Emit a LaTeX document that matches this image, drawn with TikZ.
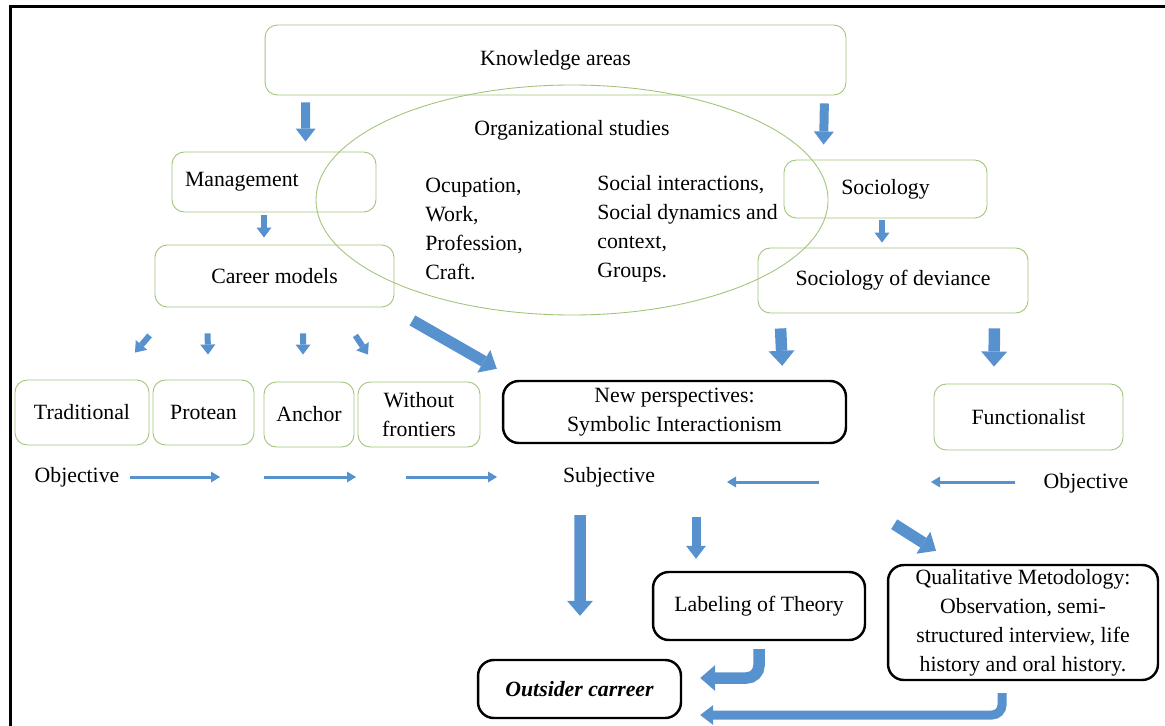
\documentclass[tikz,border=0pt]{standalone}
\usepackage{fontspec}
\setmainfont{Liberation Serif}
\usetikzlibrary{arrows.meta,calc}
\definecolor{arrowblue}{RGB}{87,146,206}
\definecolor{boxgreen}{RGB}{160,196,122}
\tikzset{
	greenbox/.style={draw=boxgreen, line width=0.5pt, rounded corners=7pt, align=center, inner sep=2pt},
	blackbox/.style={draw=black, line width=1.4pt, rounded corners=9pt, align=center, inner sep=2pt},
	bigarrow/.style={draw=arrowblue, line width=0.23cm, -{Triangle[length=0.3cm, width=0.52cm, line width=0pt]}},
	midarrow/.style={draw=arrowblue, line width=0.18cm, -{Triangle[length=0.26cm, width=0.4cm, line width=0pt]}},
	smallarrow/.style={draw=arrowblue, line width=0.12cm, -{Triangle[length=0.2cm, width=0.3cm, line width=0pt]}},
	thinarrow/.style={draw=arrowblue, line width=0.06cm, -{Triangle[length=0.18cm, width=0.22cm, line width=0pt]}},
}

\begin{document}
\begin{tikzpicture}[x=0.02cm, y=-0.02cm, font=\fontsize{12.4}{16.5}\selectfont]
		%%%%% START %%%%%
		\useasboundingbox (0, 0) rectangle (1165, 726);
		\draw[line width=0.065cm] (10.5, 726) -- (10.5, 6.5) -- (1165, 6.5);
		
		\node[greenbox, minimum width=11.62cm, minimum height=1.4cm] (know) at (555.5, 60) {Knowledge areas};
		\draw[boxgreen, line width=0.5pt] (572, 200) ellipse (256 and 115);
		\node (orgstud) at (572, 130) {Organizational studies};
		\node[align=left, anchor=west, inner sep=0pt] (ocup) at (425, 229) {Ocupation,\\Work,\\Profession,\\Craft.};
		\node[align=left, anchor=west, inner sep=0pt] (socint) at (597, 229) {Social interactions,\\Social dynamics and\\context,\\Groups.};
		
		\node[greenbox, text width=3.56cm, align=left, inner xsep=0.26cm, minimum height=1.2cm] (mgmt) at (274, 182) {Management};
		\node[greenbox, minimum width=4.78cm, minimum height=1.24cm] (career) at (274.5, 276) {Career models};
		\node[greenbox, minimum width=4.06cm, minimum height=1.16cm] (socio) at (885.5, 189) {Sociology};
		\node[greenbox, minimum width=5.4cm, minimum height=1.3cm] (deviance) at (893, 280.5) {Sociology of deviance};
		
		\draw[midarrow] ($(know.south west)+(41, 7)$) -- ($(mgmt.north west)+(134, -10)$);
		\draw[midarrow] ($(know.south east)+(-22, 8)$) -- ($(socio.north west)+(40, -15)$);
		\draw[smallarrow] ($(mgmt.south)+(-10, 3)$) -- ($(career.north)+(-10.5, -7)$);
		\draw[smallarrow] ($(socio.south)+(-3.5, 2)$) -- ($(deviance.north)+(-11, -5)$);
		
		% career models
		\node[greenbox, minimum width=2.68cm, minimum height=1.3cm] (trad) at (82, 412.5) {Traditional};
		\node[greenbox, minimum width=2.02cm, minimum height=1.3cm] (protean) at (203.5, 412.5) {Protean};
		\node[greenbox, minimum width=1.8cm, minimum height=1.3cm] (anchorbox) at (309, 414.5) {Anchor};
		\node[greenbox, minimum width=2.44cm, minimum height=1.3cm] (nofront) at (419, 414.5) {Without\\frontiers};
		\draw[smallarrow] ($(career.south west)+(-5, 28)$) -- ($(trad.north)+(53, -27)$);
		\draw[smallarrow] ($(career.south west)+(53, 26)$) -- ($(protean.north)+(4.5, -25)$);
		\draw[smallarrow] ($(career.south)+(28.5, 26)$) -- ($(anchorbox.north)+(-6, -27)$);
		\draw[smallarrow] ($(career.south east)+(-39, 28)$) -- ($(nofront.north)+(-51, -27)$);
		
		\node[blackbox, minimum width=6.86cm, minimum height=1.24cm] (newpersp) at (674.5, 412) {New perspectives:\\Symbolic Interactionism};
		\node[greenbox, minimum width=3.78cm, minimum height=1.32cm] (func) at (1028.5, 417) {Functionalist};
		\draw[bigarrow] ($(career.south east)+(18, 13)$) -- ($(newpersp.north west)+(-5, -11)$);
		\draw[bigarrow] ($(deviance.south west)+(23, 15)$) -- ($(newpersp.north east)+(-65, -14)$);
		\draw[bigarrow] ($(deviance.south east)+(-34, 15)$) -- ($(func.north)+(-34.5, -17)$);
		
		% objective / subjective
		\node (objleft) at (77, 477) {Objective};
		\node (subj) at (609, 477) {Subjective};
		\node (objright) at (1086, 483) {Objective};
		\draw[thinarrow] ($(objleft.center)+(53, 0)$) -- ($(objleft.center)+(143, 0)$);
		\draw[thinarrow] ($(objleft.center)+(187, 0)$) -- ($(objleft.center)+(279, 0)$);
		\draw[thinarrow] ($(objleft.center)+(329, 0)$) -- ($(objleft.center)+(420, 0)$);
		\draw[thinarrow] ($(objright.center)+(-267, -1)$) -- ($(objright.center)+(-359, -1)$);
		\draw[thinarrow] ($(objright.center)+(-71, -1)$) -- ($(objright.center)+(-155, -1)$);
		
		\node[blackbox, minimum width=4.24cm, minimum height=1.36cm] (labeling) at (759, 606) {Labeling of Theory};
		\node[blackbox, minimum width=5.4cm, minimum height=2.3cm] (qual) at (1023, 622.5) {Qualitative Metodology:\\Observation, semi-\\structured interview, life\\history and oral history.};
		\node[blackbox, minimum width=4.06cm, minimum height=1.16cm, font=\fontsize{12.4}{16.5}\selectfont\bfseries\itshape] (outsider) at (579.5, 689) {Outsider carreer};
		
		\draw[bigarrow] ($(subj.center)+(-29, 38)$) -- ($(outsider.north)+(0.5, -43)$);
		\draw[midarrow] ($(subj.center)+(87, 40)$) -- ($(labeling.north)+(-63, -12)$);
		\draw[bigarrow] ($(newpersp.south east)+(47, 80)$) -- ($(qual.north)+(-87, -13)$);
		\draw[bigarrow, rounded corners=0.25cm] ($(labeling.south)+(0, 8)$) |- ($(outsider.east)+(18, -11)$);
		\draw[midarrow, rounded corners=0.2cm] ($(qual.south)+(-21, 12)$) |- ($(outsider.east)+(18, 26)$);
		
		%%%%% END %%%%%
\end{tikzpicture}
\end{document}
